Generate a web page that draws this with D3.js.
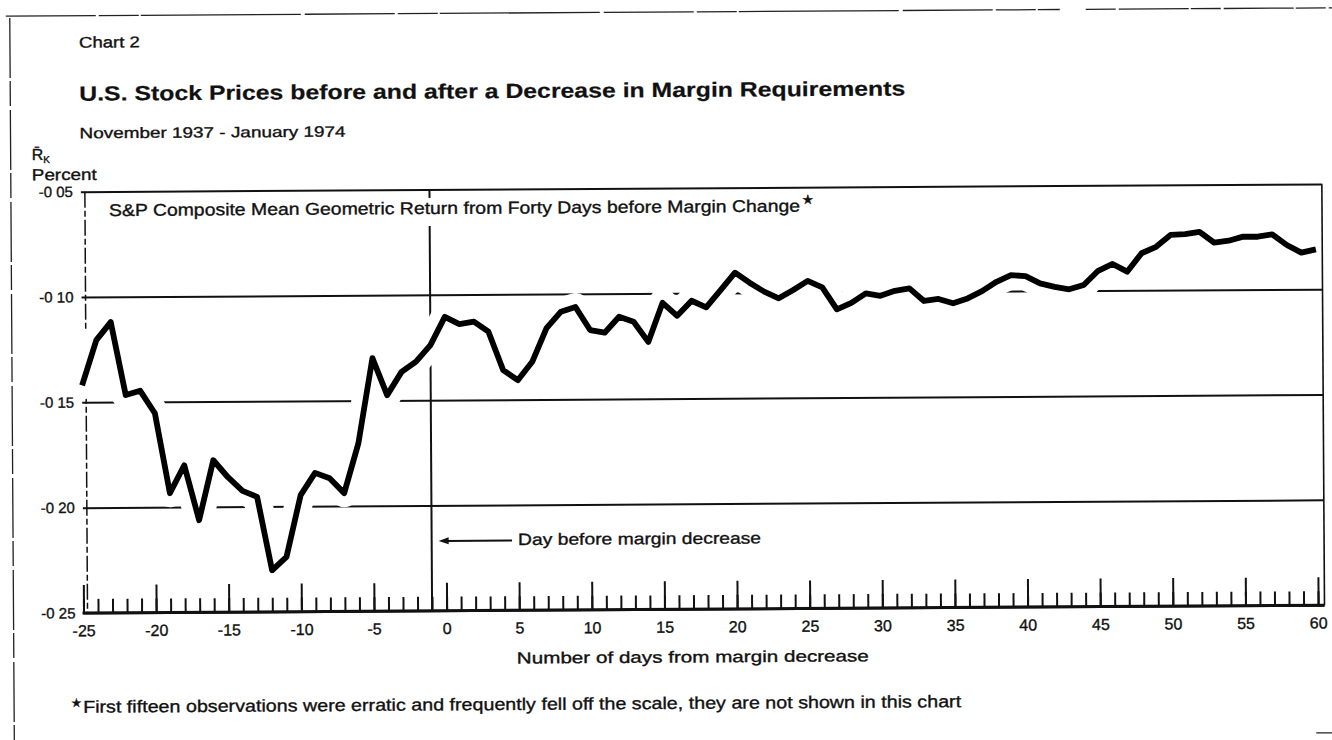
<!DOCTYPE html>
<html>
<head>
<meta charset="utf-8">
<script src="https://cdn.jsdelivr.net/npm/d3@7"></script>
<style>
  body { margin: 0; background: #fff; }
  svg { display: block; }
  text { font-family: "Liberation Sans", Arial, Helvetica, sans-serif; fill: #111; stroke: #111; stroke-width: 0.35px; }
</style>
</head>
<body>
<div id="chart"></div>
<script>
// days from the margin decrease (x categories)
var days = d3.range(-25, 61);

// S&P composite mean geometric return, percent, one value per day (-25 .. 60)
var returns = [
  -0.142, -0.1205, -0.112, -0.1467, -0.1447, -0.1554, -0.1934, -0.1802, -0.2063, -0.1779,
  -0.186, -0.1925, -0.1954, -0.2303, -0.224, -0.1947, -0.1842, -0.1868, -0.1939, -0.1702,
  -0.1299, -0.1475, -0.1365, -0.1317, -0.1239,
  -0.1105, -0.114, -0.1129, -0.1177, -0.136, -0.1408, -0.1321, -0.1162, -0.1084, -0.1062,
  -0.1172, -0.1185, -0.111, -0.1134, -0.123, -0.1045, -0.1107, -0.1036, -0.1068, -0.0986,
  -0.0904, -0.0952, -0.0995, -0.1027, -0.0988, -0.0945, -0.0976, -0.1081, -0.1051, -0.1006,
  -0.1018, -0.0995, -0.0984, -0.1044, -0.1035, -0.1056, -0.1033, -0.0999, -0.0955, -0.0924,
  -0.0929, -0.0964, -0.0981, -0.0993, -0.0973, -0.0906, -0.0874, -0.0911, -0.0824, -0.0794,
  -0.0738, -0.0734, -0.0724, -0.0776, -0.0767, -0.0748, -0.0749, -0.0738, -0.0789, -0.0826,
  -0.0811
];

var majorTicks = [-25, -20, -15, -10, -5, 0, 5, 10, 15, 20, 25, 30, 35, 40, 45, 50, 55, 60];
var yTicks = [-0.05, -0.10, -0.15, -0.20, -0.25];
var yTickLabels = ["-0 05", "-0 10", "-0 15", "-0 20", "-0 25"];

var W = 1332, H = 740;
var left = 82, boxRight = 1323;

var x = d3.scaleLinear().domain([-25, 60]).range([82, 1316.6]);
var y = d3.scaleLinear().domain([-0.05, -0.25]).range([188, 609.3]);

var svg = d3.select("#chart").append("svg")
    .attr("width", W)
    .attr("height", H);

// the scan is very slightly tilted
var g = svg.append("g").attr("transform", "rotate(-0.36,666,370)");

// outer frame of the page
g.append("line").attr("x1", 8).attr("y1", 12).attr("x2", 1062).attr("y2", 12)
  .attr("stroke", "#222").attr("stroke-width", 1.3).attr("stroke-dasharray", "90 3 40 2 160 4");
g.append("line").attr("x1", 1088).attr("y1", 12).attr("x2", 1340).attr("y2", 12)
  .attr("stroke", "#222").attr("stroke-width", 1.3).attr("stroke-dasharray", "30 3 70 2");
g.append("line").attr("x1", 12).attr("y1", 14).attr("x2", 12).attr("y2", 745)
  .attr("stroke", "#222").attr("stroke-width", 1.3).attr("stroke-dasharray", "60 3 25 4");
g.append("line").attr("x1", 1314).attr("y1", 737).attr("x2", 1340).attr("y2", 737)
  .attr("stroke", "#222").attr("stroke-width", 1.3);

// titles
g.append("text").attr("x", 81).attr("y", 44).attr("font-size", 15.5)
  .attr("textLength", 61).attr("lengthAdjust", "spacingAndGlyphs")
  .text("Chart 2");
g.append("text").attr("x", 81).attr("y", 97).attr("font-size", 20.5).attr("font-weight", "bold")
  .style("stroke-width", "0.2px")
  .attr("textLength", 826).attr("lengthAdjust", "spacingAndGlyphs")
  .text("U.S. Stock Prices before and after a Decrease in Margin Requirements");
g.append("text").attr("x", 81).attr("y", 134.6).attr("font-size", 15)
  .attr("textLength", 266).attr("lengthAdjust", "spacingAndGlyphs")
  .text("November 1937 - January 1974");

// y axis title
var rk = g.append("text").attr("x", 33).attr("y", 156).attr("font-size", 16);
rk.append("tspan").text("R\u0304");
rk.append("tspan").attr("font-size", 10).attr("dy", 3).text("K");
g.append("text").attr("x", 33).attr("y", 176.3).attr("font-size", 16)
  .attr("textLength", 65).attr("lengthAdjust", "spacingAndGlyphs")
  .text("Percent");

// horizontal rules and y labels
var yAxis = d3.axisLeft(y)
  .tickValues(yTicks)
  .tickFormat(function(d, i) { return yTickLabels[i]; })
  .tickSize(-(boxRight - left))
  .tickPadding(8);
var ya = g.append("g")
  .attr("transform", "translate(" + left + ",0)")
  .call(yAxis);
ya.select(".domain").remove();
ya.selectAll(".tick line").attr("stroke", "#111").attr("stroke-width", 2);
ya.selectAll(".tick text").attr("font-size", 15);

// left axis line (broken in the print)
g.append("line")
  .attr("x1", 86).attr("x2", 86)
  .attr("y1", y(-0.05)).attr("y2", y(-0.25))
  .attr("stroke", "#111").attr("stroke-width", 1.5)
  .attr("stroke-dasharray", "16 3 6 3");

// day before margin decrease
g.append("line")
  .attr("x1", x(-1)).attr("x2", x(-1))
  .attr("y1", y(-0.05)).attr("y2", y(-0.25))
  .attr("stroke", "#111").attr("stroke-width", 2);

// series label inside the plot, with a white patch under it
var annot = g.append("text").attr("id", "annot")
  .attr("x", 110).attr("y", 212.5).attr("font-size", 17)
  .attr("textLength", 691).attr("lengthAdjust", "spacingAndGlyphs")
  .text("S&P Composite Mean Geometric Return from Forty Days before Margin Change");
var bb = annot.node().getBBox();
g.insert("rect", "#annot")
  .attr("x", bb.x - 4).attr("y", bb.y - 1)
  .attr("width", bb.width + 8).attr("height", bb.height + 9)
  .attr("fill", "#fff");
g.append("text").attr("x", 803).attr("y", 205).attr("font-size", 13)
  .text("\u2605");

var line = d3.line()
  .x(function(d, i) { return x(days[i]); })
  .y(function(d) { return y(d); });

// white halo so the rules break around the curve
g.append("path")
  .datum(returns)
  .attr("d", line)
  .attr("fill", "none")
  .attr("stroke", "#fff")
  .attr("stroke-width", 28)
  .attr("stroke-linejoin", "round")
  .attr("stroke-linecap", "round");

// right side of the box
g.append("line")
  .attr("x1", boxRight).attr("x2", boxRight)
  .attr("y1", y(-0.05)).attr("y2", y(-0.25))
  .attr("stroke", "#111").attr("stroke-width", 1.6);

// x axis: daily ticks and longer ticks every five days
var xMinor = d3.axisBottom(x).tickValues(days).tickSize(-14).tickSizeOuter(0).tickFormat("");
var xMajor = d3.axisBottom(x).tickValues(majorTicks).tickSize(-28).tickSizeOuter(0).tickPadding(12)
  .tickFormat(function(d) { return String(d); });

var xa1 = g.append("g").attr("transform", "translate(0," + y(-0.25) + ")").call(xMinor);
var xa2 = g.append("g").attr("transform", "translate(0," + y(-0.25) + ")").call(xMajor);
[xa1, xa2].forEach(function(a) {
  a.select(".domain").remove();
  a.selectAll(".tick line").attr("stroke", "#111").attr("stroke-width", 2);
});
xa2.selectAll(".tick text").attr("font-size", 16);

g.append("line")
  .attr("x1", x(-25) - 1).attr("x2", boxRight)
  .attr("y1", y(-0.25)).attr("y2", y(-0.25))
  .attr("stroke", "#111").attr("stroke-width", 3);

// the series
g.append("path")
  .datum(returns)
  .attr("d", line)
  .attr("fill", "none")
  .attr("stroke", "#000")
  .attr("stroke-width", 5.8)
  .attr("stroke-linejoin", "round");

// arrow to the vertical rule
var ay = 539.5;
g.append("line")
  .attr("x1", x(-1) + 14).attr("x2", 511)
  .attr("y1", ay).attr("y2", ay)
  .attr("stroke", "#111").attr("stroke-width", 2);
g.append("path")
  .attr("d", "M" + (x(-1) + 7) + "," + ay + "l10,-3.5l0,7z")
  .attr("fill", "#111");
g.append("text").attr("x", 517).attr("y", 544.1).attr("font-size", 16.3)
  .attr("textLength", 243).attr("lengthAdjust", "spacingAndGlyphs")
  .text("Day before margin decrease");

// x axis title
g.append("text").attr("x", 515).attr("y", 662.6).attr("font-size", 16)
  .attr("textLength", 352).attr("lengthAdjust", "spacingAndGlyphs")
  .text("Number of days from margin decrease");

// footnote
g.append("text").attr("x", 69).attr("y", 703).attr("font-size", 12).text("\u2605");
g.append("text").attr("x", 81).attr("y", 709).attr("font-size", 17)
  .attr("textLength", 878).attr("lengthAdjust", "spacingAndGlyphs")
  .text("First fifteen observations were erratic and frequently fell off the scale, they are not shown in this chart");
</script>
</body>
</html>
